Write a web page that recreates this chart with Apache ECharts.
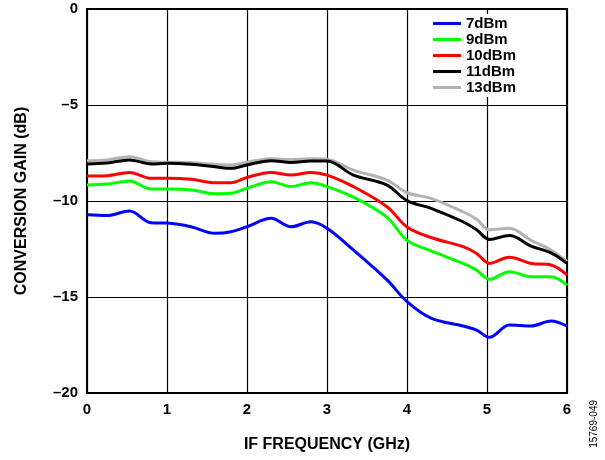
<!DOCTYPE html>
<html>
<head>
<meta charset="utf-8">
<script src="https://cdn.jsdelivr.net/npm/echarts@6/dist/echarts.min.js"></script>
<style>
  html, body { margin: 0; padding: 0; background: #fff; }
  #echarts { width: 605px; height: 460px; }
</style>
</head>
<body>
<div id="echarts"></div>
<script>
var freq = [0, 0.25, 0.53, 0.8, 1.0, 1.3, 1.6, 1.8, 2.0, 2.3, 2.55, 2.8, 3.0, 3.33, 3.75, 4.0, 4.3, 4.7, 4.87, 5.03, 5.28, 5.55, 5.8, 6.0];

var gain7 = [-10.72, -10.76, -10.52, -11.13, -11.15, -11.34, -11.68, -11.6, -11.34, -10.9, -11.34, -11.08, -11.42, -12.55, -14.11, -15.24, -16.1, -16.51, -16.72, -17.1, -16.46, -16.51, -16.25, -16.51];
var gain9 = [-9.17, -9.12, -8.96, -9.38, -9.38, -9.43, -9.62, -9.6, -9.34, -9.0, -9.25, -9.05, -9.25, -9.8, -10.85, -12.05, -12.6, -13.25, -13.6, -14.08, -13.68, -13.94, -13.94, -14.38];
var gain10 = [-8.70, -8.68, -8.51, -8.82, -8.82, -8.87, -9.05, -9.05, -8.77, -8.51, -8.65, -8.51, -8.65, -9.25, -10.3, -11.35, -11.9, -12.38, -12.73, -13.25, -12.93, -13.25, -13.33, -13.85];
var gain11 = [-8.07, -8.02, -7.86, -8.07, -8.04, -8.09, -8.22, -8.30, -8.12, -7.90, -7.99, -7.92, -7.92, -8.65, -9.17, -9.98, -10.38, -11.08, -11.5, -12.0, -11.8, -12.35, -12.7, -13.25];
var gain13 = [-7.9, -7.86, -7.69, -7.95, -7.98, -8.0, -8.1, -8.12, -7.98, -7.8, -7.85, -7.8, -7.83, -8.39, -8.91, -9.57, -9.86, -10.56, -10.95, -11.5, -11.42, -12.05, -12.55, -13.16];

var seriesNames = ['7dBm', '9dBm', '10dBm', '11dBm', '13dBm'];
var seriesColors = ['#0000ff', '#00ff00', '#ff0000', '#000000', '#b3b3b3'];
var seriesData = [gain7, gain9, gain10, gain11, gain13];

var font = 'Arial, "Liberation Sans", sans-serif';

function pairs(ys) {
    return freq.map(function (x, i) { return [x, ys[i]]; });
}

var myChart = echarts.init(document.getElementById('echarts'));

var series = [];
// 13dBm drawn first so the black trace sits on top of it
[4, 0, 1, 2, 3].forEach(function (k) {
    series.push({
        name: seriesNames[k],
        type: 'line',
        smooth: 0.35,
        symbol: 'none',
        lineStyle: { color: seriesColors[k], width: 3 },
        itemStyle: { color: seriesColors[k] },
        data: pairs(seriesData[k])
    });
});

var option = {
    animation: false,
    backgroundColor: '#fff',
    textStyle: { fontFamily: font },
    grid: {
        left: 87,
        right: 38,
        top: 9,
        bottom: 67,
        show: true,
        borderColor: '#000',
        borderWidth: 2
    },
    legend: {
        data: seriesNames,
        orient: 'vertical',
        left: 427,
        top: 14,
        icon: 'rect',
        itemWidth: 28,
        itemHeight: 3,
        itemGap: 1,
        padding: [2, 8, 2, 6],
        backgroundColor: '#fff',
        textStyle: { fontFamily: font, fontSize: 15, fontWeight: 'bold', color: '#000', padding: [0, 0, 0, 0] }
    },
    xAxis: {
        type: 'value',
        min: 0,
        max: 6,
        interval: 1,
        name: 'IF FREQUENCY (GHz)',
        nameLocation: 'middle',
        nameGap: 44,
        nameTextStyle: { fontFamily: font, fontSize: 16, fontWeight: 'bold', color: '#000' },
        axisLine: { show: true, lineStyle: { color: '#000', width: 2 } },
        axisTick: { show: false },
        axisLabel: { fontFamily: font, fontSize: 15, fontWeight: 'bold', color: '#000', margin: 9 },
        splitLine: { show: true, lineStyle: { color: '#000', width: 1.2 } }
    },
    yAxis: {
        type: 'value',
        min: -20,
        max: 0,
        interval: 5,
        name: 'CONVERSION GAIN (dB)',
        nameLocation: 'middle',
        nameGap: 57,
        nameTextStyle: { fontFamily: font, fontSize: 16, fontWeight: 'bold', color: '#000' },
        axisLine: { show: true, lineStyle: { color: '#000', width: 2 } },
        axisTick: { show: false },
        axisLabel: {
            fontFamily: font, fontSize: 15, fontWeight: 'bold', color: '#000', margin: 9,
            formatter: function (v) { return v < 0 ? '\u2013' + Math.abs(v) : String(v); }
        },
        splitLine: { show: true, lineStyle: { color: '#000', width: 1.2 } }
    },
    graphic: [
        {
            type: 'text',
            left: 589,
            top: 400,
            rotation: Math.PI / 2,
            style: { text: '15769-049', font: '10px ' + font, fill: '#000' }
        }
    ],
    series: series
};

myChart.setOption(option);
</script>
</body>
</html>
